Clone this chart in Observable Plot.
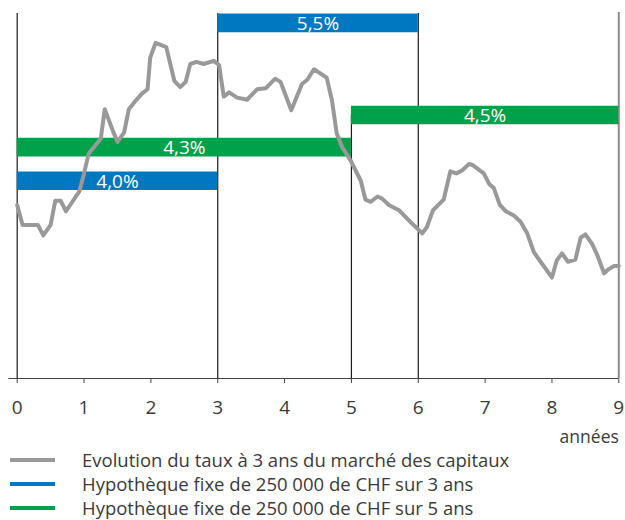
<!DOCTYPE html>
<html>
<head>
<meta charset="utf-8">
<script src="https://cdn.jsdelivr.net/npm/d3@7"></script>
<script src="https://cdn.jsdelivr.net/npm/@observablehq/plot@0.6"></script>
<style>
  html, body { margin: 0; padding: 0; background: #fff; }
  body { width: 625px; font-family: "Open Sans", sans-serif; color: #3a3a3a; }
  #legend { position: relative; height: 75px; }
  .sw { position: absolute; left: 10px; width: 45px; height: 4px; }
  .lab { position: absolute; left: 82px; white-space: nowrap; font-size: 18.5px; }
</style>
</head>
<body>
<div id="chart"></div>
<div id="legend"></div>
<script>
// --- Data ---
const years = [0, 1, 2, 3, 4, 5, 6, 7, 8, 9];
const yearsLabel = "années";

// market 3-year rate
const rateX = [0, 0.08, 0.31, 0.39, 0.5, 0.57, 0.65, 0.73, 0.93, 1.0, 1.07, 1.25, 1.31, 1.44, 1.5, 1.6, 1.67, 1.77, 1.87, 1.95,
  1.99, 2.07, 2.23, 2.35, 2.44, 2.52, 2.59, 2.68, 2.79, 2.94, 3.02, 3.09, 3.17, 3.29, 3.44, 3.59, 3.72, 3.86, 3.94, 4.1,
  4.26, 4.34, 4.44, 4.63, 4.71, 4.78, 4.86, 4.99, 5.14, 5.21, 5.29, 5.39, 5.46, 5.56, 5.71, 5.88, 6.06, 6.13, 6.22, 6.38,
  6.48, 6.57, 6.66, 6.76, 6.81, 6.98, 7.06, 7.13, 7.22, 7.31, 7.43, 7.53, 7.63, 7.73, 7.83, 8.0, 8.07, 8.15, 8.24, 8.35,
  8.43, 8.5, 8.6, 8.68, 8.78, 8.85, 8.93, 9.0];
const rateY = [3.77, 3.58, 3.58, 3.48, 3.58, 3.81, 3.81, 3.71, 3.9, 4.07, 4.26, 4.4, 4.68, 4.46, 4.37, 4.46, 4.68, 4.76, 4.83, 4.87,
  5.17, 5.31, 5.27, 4.95, 4.89, 4.94, 5.11, 5.13, 5.11, 5.14, 5.1, 4.8, 4.84, 4.79, 4.77, 4.87, 4.88, 4.97, 4.94, 4.67,
  4.92, 4.96, 5.06, 4.98, 4.76, 4.45, 4.32, 4.19, 4.0, 3.82, 3.8, 3.85, 3.83, 3.77, 3.72, 3.61, 3.5, 3.56, 3.72, 3.82,
  4.09, 4.07, 4.1, 4.16, 4.15, 4.07, 3.97, 3.93, 3.77, 3.71, 3.67, 3.61, 3.5, 3.32, 3.23, 3.08, 3.24, 3.31, 3.23, 3.25,
  3.46, 3.49, 3.4, 3.29, 3.12, 3.16, 3.19, 3.19];

// fixed mortgages
const barTerm  = ["3 ans", "3 ans", "5 ans", "5 ans"];
const barStart = [0, 3, 0, 5];
const barEnd   = [3, 6, 5, 9];
const barRate  = ["4,0%", "5,5%", "4,3%", "4,5%"];
const barLevel = [4.0, 5.5, 4.32, 4.625];

// frame
const yMin = 2.12, yMax = 5.59;
const frameX   = [0, 3, 5, 6];
const frameTop = [yMax, yMax, 4.625, yMax];

const legendLabels = [
  "Evolution du taux à 3 ans du marché des capitaux",
  "Hypothèque fixe de 250 000 de CHF sur 3 ans",
  "Hypothèque fixe de 250 000 de CHF sur 5 ans"
];

// --- Build ---
const colors = { "3 ans": "#0077c1", "5 ans": "#00a14b" };
const gray = "#999999";
const rate = rateX.map((x, i) => ({ x, y: rateY[i] }));
const bars = barStart.map((s, i) => ({ term: barTerm[i], x1: s, x2: barEnd[i], y: barLevel[i], label: barRate[i], xm: (s + barEnd[i]) / 2 }));
const frame = frameX.map((x, i) => ({ x, top: frameTop[i] }));

const chart = Plot.plot({
  width: 625,
  height: 445,
  marginTop: 13,
  marginBottom: 67,
  marginLeft: 16.7,
  marginRight: 6.7,
  style: { fontFamily: "Open Sans, sans-serif", background: "#fff", overflow: "visible" },
  x: { domain: [0, 9] },
  y: { domain: [yMin, yMax], axis: null },
  marks: [
    Plot.ruleX(frame, { x: "x", y1: yMin, y2: "top", stroke: "#1a1a1a", strokeWidth: 1.2 }),
    Plot.ruleX([9], { y1: yMin, y2: yMax + 0.01, stroke: "#8c8c8c", strokeWidth: 2 }),
    Plot.ruleY(bars, { y: "y", x1: "x1", x2: "x2", stroke: d => colors[d.term], strokeWidth: 18.7 }),
    Plot.text(bars, { x: "xm", y: "y", text: "label", fill: "#fff", fontSize: 19, dy: 1 }),
    Plot.line(rate, { x: "x", y: "y", stroke: gray, strokeWidth: 4, strokeLinejoin: "round" }),
    Plot.ruleY([yMin], { x1: -0.125, x2: 9, stroke: "#444", strokeWidth: 1.2 }),
    Plot.axisX({ ticks: years, tickSize: 5, tickPadding: 17, fontSize: 19, tickFormat: d => String(d), stroke: "#444", fill: "#3a3a3a", label: null }),
    Plot.text([yearsLabel], { x: 9, y: yMin, dy: 59, textAnchor: "end", fontSize: 17.5, fill: "#3a3a3a" })
  ]
});
document.getElementById("chart").appendChild(chart);

const legColors = [gray, colors["3 ans"], colors["5 ans"]];
const leg = document.getElementById("legend");
legendLabels.forEach((t, i) => {
  const top = 3 + i * 24;
  const sw = document.createElement("div");
  sw.className = "sw";
  sw.style.top = (top + 10) + "px";
  sw.style.background = legColors[i];
  const lab = document.createElement("div");
  lab.className = "lab";
  lab.style.top = top + "px";
  lab.style.lineHeight = "24px";
  lab.textContent = t;
  leg.appendChild(sw);
  leg.appendChild(lab);
});
</script>
</body>
</html>
